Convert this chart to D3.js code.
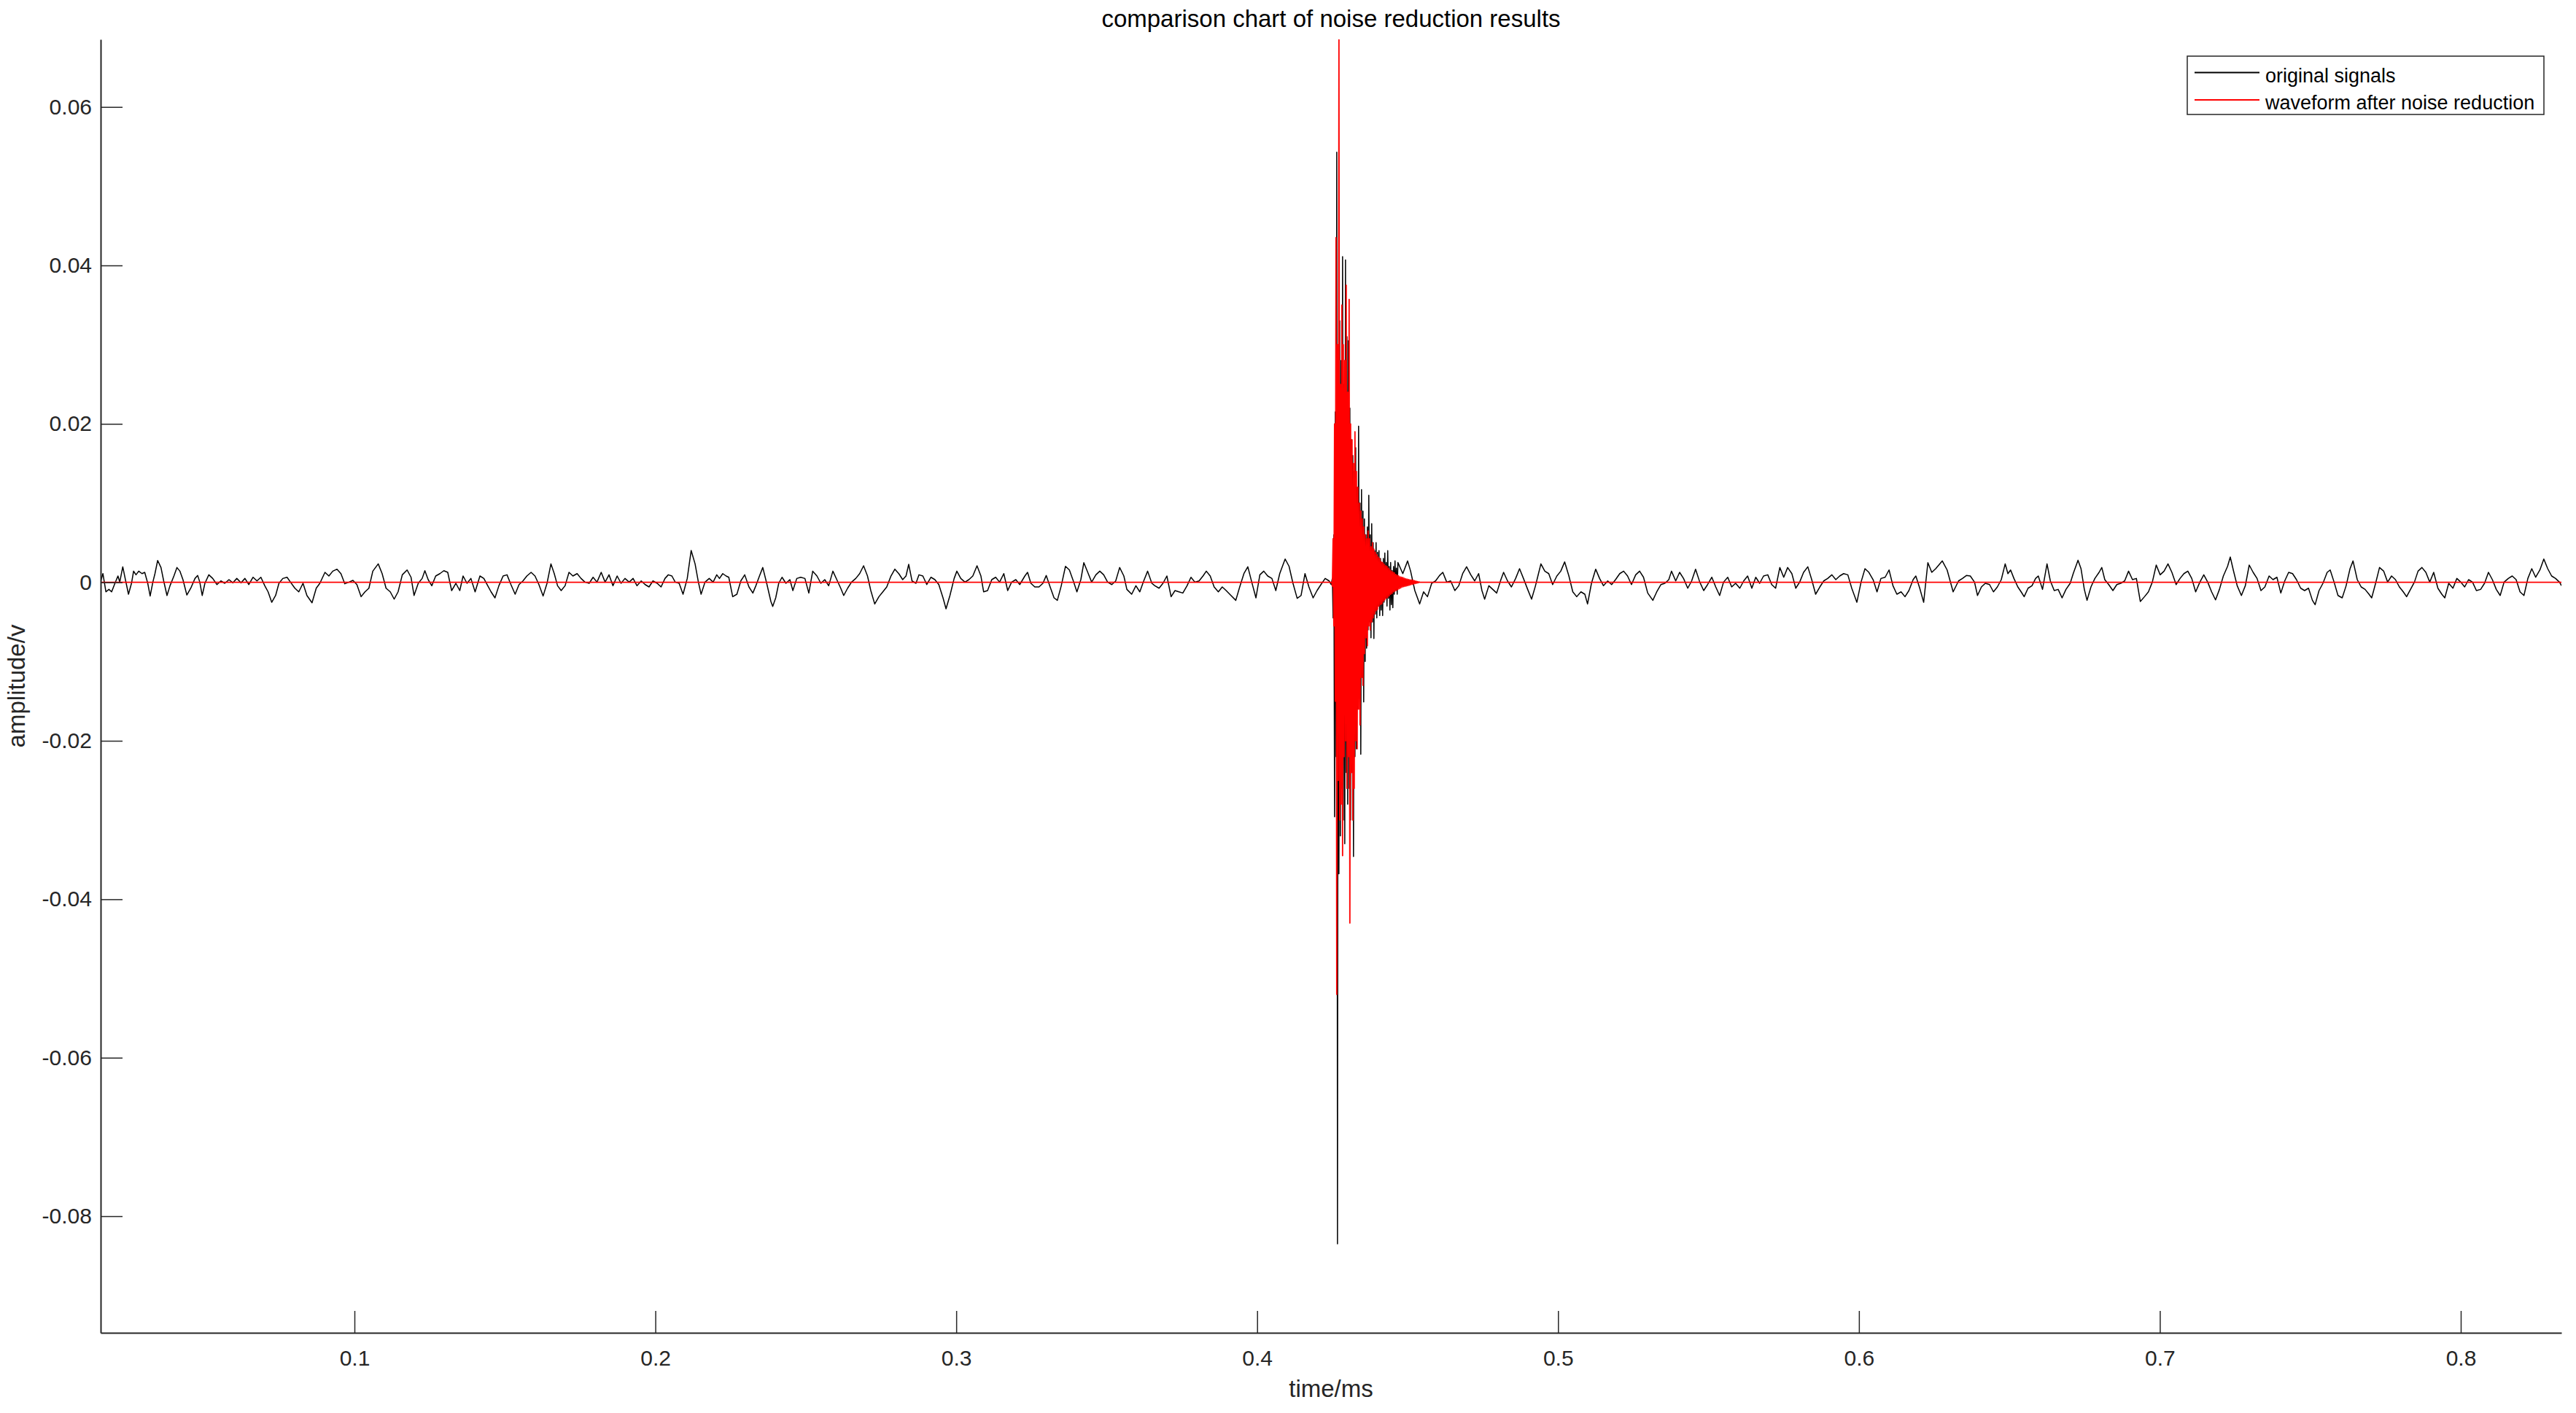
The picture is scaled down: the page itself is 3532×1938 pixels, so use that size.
<!DOCTYPE html>
<html>
<head>
<meta charset="utf-8">
<script src="https://cdn.jsdelivr.net/npm/d3@7"></script>
<style>
  body { margin: 0; background: #fff; }
  svg { display: block; font-family: "Liberation Sans", Arial, Helvetica, sans-serif; }
  .axis path, .axis line { stroke: #262626; }
  .axis path { stroke-width: 2; }
  .axis line { stroke-width: 1.5; }
  .axis text { fill: #262626; font-size: 30px; font-family: "Liberation Sans", Arial, Helvetica, sans-serif; }
  .label { fill: #262626; font-size: 33px; }
  .title { fill: #000; font-size: 33px; }
  .legend text { fill: #000; font-size: 27px; }
  .trace { fill: none; stroke-linejoin: round; }
</style>
</head>
<body>
<div id="chart"></div>
<script>
const xTicks = [0.1, 0.2, 0.3, 0.4, 0.5, 0.6, 0.7, 0.8];
const yTicks = [-0.08, -0.06, -0.04, -0.02, 0, 0.02, 0.04, 0.06];
const timeRange = [0.01565, 0.83345];
const ampRange = [-0.09472, 0.06853];
const seriesNames = [`original signals`, `waveform after noise reduction`];
const seriesColors = [`#000000`, `#ff0000`];

// [time in ms, amplitude in mV]
const originalBefore = [
  [0.0157,0.18],[0.0164,1.10],[0.0174,-1.20],[0.0184,-0.89],[0.0193,-1.20],[0.0204,-0.12],[0.0214,0.80],[0.0220,0.03],
  [0.0230,1.96],[0.0238,0.49],[0.0249,-1.50],[0.0259,-0.12],[0.0266,1.41],[0.0274,0.95],[0.0283,1.41],[0.0294,1.10],
  [0.0303,1.26],[0.0313,-0.12],[0.0321,-1.72],[0.0330,0.03],[0.0337,1.10],[0.0346,2.76],[0.0357,1.87],[0.0366,0.18],
  [0.0377,-1.66],[0.0387,-0.43],[0.0400,0.80],[0.0410,1.87],[0.0420,1.41],[0.0430,0.34],[0.0443,-1.60],[0.0456,-0.74],
  [0.0470,0.49],[0.0479,0.86],[0.0486,0.03],[0.0494,-1.66],[0.0503,-0.12],[0.0516,0.95],[0.0529,0.49],[0.0543,-0.28],
  [0.0556,0.18],[0.0569,-0.12],[0.0583,0.34],[0.0596,-0.06],[0.0609,0.49],[0.0623,-0.06],[0.0636,0.49],[0.0649,-0.28],
  [0.0663,0.64],[0.0676,0.18],[0.0689,0.64],[0.0702,-0.43],[0.0713,-1.20],[0.0725,-2.52],[0.0738,-1.66],[0.0749,-0.12],
  [0.0762,0.49],[0.0776,0.64],[0.0789,-0.06],[0.0802,-0.74],[0.0815,-1.20],[0.0829,-0.12],[0.0842,-1.66],[0.0859,-2.58],
  [0.0873,-0.74],[0.0885,-0.12],[0.0902,1.26],[0.0915,0.80],[0.0928,1.41],[0.0942,1.66],[0.0955,1.10],[0.0968,-0.18],
  [0.0982,0.03],[0.0995,0.25],[0.1008,-0.28],[0.1022,-1.81],[0.1035,-1.20],[0.1048,-0.74],[0.1061,1.41],[0.1079,2.33],
  [0.1092,1.10],[0.1105,-0.74],[0.1119,-1.20],[0.1132,-2.12],[0.1145,-1.20],[0.1159,0.95],[0.1175,1.56],[0.1188,0.64],
  [0.1198,-1.66],[0.1212,-0.12],[0.1225,0.49],[0.1234,1.47],[0.1245,0.34],[0.1257,-0.43],[0.1270,0.80],[0.1284,1.10],
  [0.1297,1.47],[0.1310,1.26],[0.1323,-1.04],[0.1337,-0.12],[0.1350,-1.04],[0.1361,0.80],[0.1374,-0.12],[0.1387,0.49],
  [0.1401,-1.20],[0.1417,0.80],[0.1430,0.49],[0.1443,-0.43],[0.1454,-1.20],[0.1467,-1.96],[0.1480,-0.43],[0.1494,0.80],
  [0.1507,0.95],[0.1520,-0.28],[0.1534,-1.50],[0.1547,-0.28],[0.1560,0.18],[0.1573,0.80],[0.1587,1.26],[0.1600,0.80],
  [0.1613,-0.28],[0.1627,-1.72],[0.1640,-0.12],[0.1653,2.33],[0.1664,1.10],[0.1675,-0.43],[0.1687,-1.04],[0.1700,-0.43],
  [0.1713,1.26],[0.1726,0.80],[0.1740,1.10],[0.1753,0.49],[0.1766,0.03],[0.1780,-0.12],[0.1793,0.64],[0.1806,0.03],
  [0.1820,1.26],[0.1833,0.03],[0.1846,0.95],[0.1859,-0.43],[0.1873,0.80],[0.1886,-0.12],[0.1899,0.49],[0.1913,0.03],
  [0.1926,0.49],[0.1939,-0.43],[0.1953,0.18],[0.1966,-0.28],[0.1979,-0.58],[0.1992,0.18],[0.2006,-0.12],[0.2019,-0.58],
  [0.2032,0.49],[0.2043,0.95],[0.2055,0.80],[0.2066,0.03],[0.2079,-0.12],[0.2092,-1.50],[0.2106,0.49],[0.2119,4.02],
  [0.2132,2.33],[0.2143,0.03],[0.2152,-1.50],[0.2165,0.03],[0.2179,0.49],[0.2192,0.03],
  [0.2204,0.95],[0.2213,0.49],[0.2224,1.10],[0.2235,0.80],[0.2244,0.64],[0.2257,-1.81],[0.2271,-1.50],[0.2284,0.18],
  [0.2297,0.95],[0.2311,-0.58],[0.2324,-1.35],[0.2334,-0.43],[0.2346,0.80],[0.2357,1.87],[0.2370,-0.12],[0.2384,-2.42],
  [0.2390,-3.04],[0.2400,-1.96],[0.2410,-0.12],[0.2421,0.64],[0.2434,-0.12],[0.2447,0.34],[0.2457,-1.04],[0.2470,0.49],
  [0.2483,0.64],[0.2497,0.49],[0.2510,-1.35],[0.2523,1.41],[0.2537,0.80],[0.2550,-0.12],[0.2563,0.34],[0.2576,-0.43],
  [0.2590,1.41],[0.2603,0.34],[0.2616,-0.74],[0.2626,-1.66],[0.2639,-0.74],[0.2652,0.03],[0.2666,0.49],[0.2679,1.10],
  [0.2692,2.09],[0.2705,0.80],[0.2716,-1.04],[0.2729,-2.73],[0.2743,-1.81],[0.2756,-1.20],[0.2769,-0.58],[0.2783,0.80],
  [0.2796,1.66],[0.2809,1.10],[0.2822,0.34],[0.2833,0.80],[0.2842,2.27],[0.2853,0.18],[0.2866,-0.12],[0.2876,0.95],
  [0.2889,0.80],[0.2902,-0.28],[0.2916,0.64],[0.2929,0.34],[0.2942,-0.28],[0.2956,-1.96],[0.2966,-3.34],[0.2979,-1.66],
  [0.2993,0.49],[0.3002,1.41],[0.3015,0.49],[0.3029,0.03],[0.3042,0.34],[0.3055,0.80],[0.3069,2.09],[0.3082,0.80],
  [0.3091,-1.20],[0.3104,-1.04],[0.3118,0.34],[0.3131,0.64],[0.3144,0.03],[0.3158,1.10],[0.3171,-1.04],[0.3184,0.03],
  [0.3198,0.34],[0.3211,-0.28],[0.3228,0.80],[0.3237,1.26],[0.3248,-0.12],[0.3261,-0.58],[0.3275,-0.58],[0.3288,-0.12],
  [0.3299,0.86],[0.3312,-0.58],[0.3325,-1.96],[0.3336,-2.27],[0.3349,-0.43],[0.3363,2.02],[0.3376,1.56],[0.3389,0.18],
  [0.3401,-1.20],[0.3414,0.34],[0.3424,2.48],[0.3437,1.26],[0.3450,0.03],[0.3464,0.95],[0.3477,1.41],[0.3490,0.95],
  [0.3503,0.03],[0.3517,-0.28],[0.3530,0.18],[0.3543,1.87],[0.3557,0.80],[0.3567,-0.89],[0.3583,-1.50],[0.3597,-0.43],
  [0.3610,-1.20],[0.3623,0.18],[0.3636,1.41],[0.3650,-0.12],[0.3660,-0.43],[0.3674,-0.74],[0.3687,-0.12],[0.3700,0.80],
  [0.3714,-1.81],[0.3727,-1.04],[0.3740,-1.20],[0.3753,-1.35],[0.3767,-0.43],[0.3780,0.64],[0.3793,0.03],[0.3807,0.18],
  [0.3820,0.80],[0.3831,1.41],[0.3844,0.80],[0.3857,-0.58],[0.3871,-1.20],[0.3884,-0.58],[0.3897,-1.04],[0.3913,-1.66],
  [0.3929,-2.27],[0.3942,-0.58],[0.3956,1.10],[0.3969,1.96],[0.3982,0.03],[0.3996,-1.96],[0.4009,0.95],[0.4022,1.41],
  [0.4035,0.80],[0.4049,0.49],[0.4062,-1.04],[0.4075,1.10],[0.4093,2.94],[0.4106,2.02],[0.4119,-0.12],[0.4133,-2.02],
  [0.4146,-1.66],[0.4159,1.10],[0.4172,-0.58],[0.4186,-1.96],[0.4199,-1.04],[0.4212,-0.28],[0.4226,0.49],[0.4239,0.18],
  [0.4246,-0.28]
];

// burst samples (mV), evenly spaced from burstStart
const burstStart = 0.4250;
const burstStep = 0.000242;
const originalBurst = [
  0.5, -4.5, 6.0, -29.6, 21.5, -22.0, 54.3, -83.5, 30.0, -36.8, 33.0, -32.0, 28.0, -26.0, 41.1, -30.0,
  25.0, -33.0, 40.7, -24.0, 31.0, -28.0, 30.5, -26.0, 22.0, -30.0, 18.0, -24.0, 16.0, -34.6, 14.0, -22.0,
  17.0, -21.0, 12.0, -16.0, 19.7, -14.0, 10.0, -21.7, 11.7, -12.0, 9.0, -15.1, 8.0, -10.0, 6.0, -8.3,
  7.0, -6.0, 11.0, -5.0, 6.0, -7.0, 7.4, -5.0, 5.0, -7.1, 4.0, -4.0, 5.0, -4.5, 3.8, -3.0,
  4.0, -4.2, 3.0, -3.5, 2.5, -4.2, 3.0, -2.5, 3.7, -2.0, 2.5, -3.0, 4.0, -2.0, 2.0, -3.5,
  2.5, -2.8, 1.5, -3.2, 2.0, -1.5, 2.7, -1.0, 1.8, -1.5, 2.5
];
const denoisedBurst = [
  -0.5, 5.5, -5.5, 20.0, -15.0, 43.5, -52.0, 30.0, -25.0, 68.6, -30.0, 25.0, -28.0, 35.0, -34.5, 30.0,
  -22.0, 28.0, -20.0, 37.5, -26.0, 24.0, -22.0, 35.7, -43.0, 20.0, -24.0, 18.0, -30.0, 15.0, -26.0, 19.0,
  -20.0, 14.0, -21.0, 12.0, -16.0, 10.0, -18.0, 9.0, -12.0, 8.0, -13.0, 7.0, -9.0, 6.0, -7.0, 5.5,
  -8.0, 6.5, -5.5, 5.5, -6.0, 4.5, -5.0, 5.0, -4.5, 4.2, -4.0, 3.8, -3.6, 3.5, -3.4, 3.2,
  -3.0, 3.0, -2.8, 2.6, -2.7, 2.5, -2.4, 2.3, -2.2, 2.1, -2.0, 2.0, -1.9, 1.8, -1.7, 1.6,
  -1.5, 1.4, -1.4, 1.3, -1.2, 1.2, -1.1, 1.0, -1.0, 0.9, -0.9, 0.8, -0.8, 0.7, -0.7, 0.65,
  -0.6, 0.6, -0.55, 0.5, -0.5, 0.45, -0.45, 0.4, -0.4, 0.35, -0.35, 0.3, -0.3, 0.3, -0.25, 0.25,
  -0.2, 0.2, -0.15, 0.15, -0.1, 0.1, -0.05, 0.05, 0
];
const denoisedQuiet = [[0.0157, 0], [0.4248, 0], [0.4545, 0], [0.8335, 0]];

const originalAfter = [
  [0.4484,1.10],[0.4500,2.70],[0.4510,1.41],[0.4524,-1.04],[0.4540,-2.73],[0.4553,-1.20],[0.4566,-1.81],[0.4580,-0.12],
  [0.4593,0.18],[0.4606,0.86],[0.4617,1.26],[0.4630,0.03],[0.4643,0.18],[0.4657,-1.04],[0.4670,-0.43],[0.4683,1.10],
  [0.4696,1.96],[0.4710,0.95],[0.4723,0.18],[0.4736,1.10],[0.4747,-1.04],[0.4756,-2.12],[0.4770,-0.43],[0.4783,-0.89],
  [0.4796,-1.35],[0.4810,0.34],[0.4819,1.26],[0.4832,0.18],[0.4845,-0.58],[0.4859,0.49],[0.4872,1.72],[0.4885,0.49],
  [0.4899,-0.89],[0.4912,-2.12],[0.4925,-0.43],[0.4933,0.80],[0.4943,2.33],[0.4956,1.41],[0.4969,1.10],[0.4982,-0.28],
  [0.4996,0.80],[0.5009,1.41],[0.5022,2.58],[0.5036,0.80],[0.5049,-1.20],[0.5062,-1.81],[0.5076,-1.20],[0.5089,-1.50],
  [0.5098,-2.73],[0.5111,-0.12],[0.5125,1.66],[0.5138,0.49],[0.5151,-0.43],[0.5165,0.18],[0.5178,-0.28],[0.5191,0.34],
  [0.5205,1.10],[0.5218,1.41],[0.5231,0.80],[0.5244,-0.28],[0.5258,0.95],[0.5271,1.41],[0.5284,0.64],[0.5298,-1.35],
  [0.5315,-2.27],[0.5328,-1.20],[0.5342,-0.28],[0.5355,-0.12],[0.5368,0.34],[0.5377,1.41],[0.5391,0.18],[0.5404,1.26],
  [0.5417,0.49],[0.5431,-0.74],[0.5444,0.18],[0.5457,1.66],[0.5471,0.03],[0.5484,-1.04],[0.5497,-0.28],[0.5511,0.64],
  [0.5524,-0.58],[0.5537,-1.66],[0.5550,0.03],[0.5564,0.64],[0.5577,-0.58],[0.5590,-0.12],[0.5604,-0.74],[0.5617,0.18],
  [0.5630,0.80],[0.5644,-0.74],[0.5657,0.64],[0.5670,-0.12],[0.5683,0.80],[0.5697,0.95],[0.5710,-0.28],[0.5723,-0.74],
  [0.5737,1.87],[0.5750,0.64],[0.5763,1.87],[0.5777,1.10],[0.5790,-0.74],[0.5803,0.03],[0.5816,1.26],[0.5830,1.96],
  [0.5843,0.34],[0.5856,-1.50],[0.5870,-0.58],[0.5883,0.18],[0.5896,0.49],[0.5910,0.95],[0.5923,0.34],[0.5936,0.80],
  [0.5949,1.10],[0.5963,0.95],[0.5976,-0.74],[0.5993,-2.52],[0.6007,0.03],[0.6020,1.72],[0.6033,1.26],[0.6047,0.34],
  [0.6060,-1.20],[0.6073,0.49],[0.6087,0.64],[0.6100,1.56],[0.6113,-0.43],[0.6126,-1.50],[0.6140,-1.20],[0.6153,-1.81],
  [0.6166,-1.04],[0.6180,0.34],[0.6189,0.80],[0.6202,-0.74],[0.6215,-2.52],[0.6229,2.48],[0.6242,1.26],[0.6255,1.72],
  [0.6277,2.70],[0.6293,1.56],[0.6313,-1.20],
  [0.6331,0.18],[0.6344,0.49],[0.6357,0.86],[0.6370,0.80],[0.6384,0.03],[0.6394,-1.66],[0.6407,-0.58],[0.6420,-0.12],
  [0.6434,-0.28],[0.6447,-1.20],[0.6460,-0.58],[0.6473,0.34],[0.6486,2.33],[0.6495,1.10],[0.6504,1.56],[0.6515,0.49],
  [0.6528,-0.58],[0.6539,-1.20],[0.6549,-1.81],[0.6562,-0.74],[0.6575,-0.43],[0.6587,0.49],[0.6596,0.80],[0.6610,-0.89],
  [0.6625,2.33],[0.6636,0.18],[0.6649,-1.04],[0.6662,-0.89],[0.6675,-1.96],[0.6688,-0.89],[0.6702,-0.12],[0.6712,1.10],
  [0.6728,2.79],[0.6738,1.72],[0.6749,-0.89],[0.6758,-2.27],[0.6771,-0.58],[0.6784,0.49],[0.6798,1.26],[0.6807,1.87],
  [0.6817,0.34],[0.6830,-0.28],[0.6844,-1.04],[0.6857,-0.28],[0.6870,-0.12],[0.6883,0.18],[0.6896,1.41],[0.6909,0.34],
  [0.6922,0.49],[0.6935,-2.42],[0.6949,-1.81],[0.6962,-1.20],[0.6975,0.03],[0.6988,2.18],[0.7001,0.95],[0.7014,1.41],
  [0.7027,2.33],[0.7040,1.26],[0.7054,-0.28],[0.7067,0.49],[0.7080,1.10],[0.7093,1.41],[0.7106,0.49],[0.7119,-1.20],
  [0.7133,0.03],[0.7146,0.95],[0.7159,0.03],[0.7172,-1.20],[0.7185,-2.21],[0.7198,-0.89],[0.7211,0.80],[0.7225,2.02],
  [0.7234,3.19],[0.7244,1.56],[0.7257,-0.43],[0.7271,-1.66],[0.7284,-0.43],[0.7297,2.18],[0.7310,1.26],[0.7323,0.49],
  [0.7336,-1.04],[0.7349,-0.58],[0.7363,0.80],[0.7376,0.34],[0.7389,0.64],[0.7402,-1.35],[0.7415,0.18],[0.7428,1.26],
  [0.7441,1.10],[0.7454,0.34],[0.7468,-0.74],[0.7481,-1.04],[0.7494,-0.74],[0.7507,-2.27],[0.7516,-2.82],[0.7529,-1.04],
  [0.7542,-0.12],[0.7556,1.26],[0.7566,1.56],[0.7579,0.03],[0.7592,-1.66],[0.7606,-1.96],[0.7619,-0.43],[0.7632,1.72],
  [0.7642,2.70],[0.7656,0.34],[0.7669,-0.58],[0.7682,-0.89],[0.7695,-1.50],[0.7704,-1.96],[0.7717,-0.12],[0.7730,1.87],
  [0.7744,1.41],[0.7757,0.03],[0.7770,0.80],[0.7783,0.34],[0.7796,-0.58],[0.7809,-1.20],[0.7820,-1.81],[0.7833,-0.89],
  [0.7846,0.03],[0.7858,1.41],[0.7871,1.87],[0.7884,1.26],[0.7897,0.03],[0.7910,1.26],[0.7924,-0.74],[0.7937,-1.50],
  [0.7947,-1.96],[0.7960,-0.12],[0.7974,-0.74],[0.7987,0.49],[0.8000,0.03],[0.8013,-0.58],[0.8026,0.34],[0.8039,0.03],
  [0.8052,-1.04],[0.8066,-0.89],[0.8079,-0.12],[0.8092,1.26],[0.8105,0.34],[0.8118,-0.89],[0.8131,-1.66],[0.8144,0.03],
  [0.8158,0.49],[0.8171,0.80],[0.8184,0.34],[0.8197,-1.20],[0.8210,-1.66],[0.8223,0.49],[0.8236,1.72],[0.8249,0.64],
  [0.8263,1.56],[0.8276,2.94],[0.8289,1.72],[0.8302,0.80],[0.8315,0.49],[0.8328,0.03],[0.8335,-0.43]
];

class WaveformChart {
  constructor(el) {
    this.el = el;
    this.width = 3532;
    this.height = 1938;
    this.margin = { top: 54, right: 20, bottom: 110, left: 138 };
    this.innerWidth = this.width - this.margin.left - this.margin.right;
    this.innerHeight = this.height - this.margin.top - this.margin.bottom;
    this.x = d3.scaleLinear().domain(timeRange).range([0, this.innerWidth]);
    this.y = d3.scaleLinear().domain(ampRange).range([this.innerHeight, 0]);
  }

  render() {
    this.svg = d3.select(this.el).append(`svg`)
        .attr(`width`, this.width)
        .attr(`height`, this.height);

    this.svg.append(`rect`)
        .attr(`width`, this.width)
        .attr(`height`, this.height)
        .attr(`fill`, `#fff`);

    this.g = this.svg.append(`g`)
        .attr(`transform`, `translate(${this.margin.left},${this.margin.top})`);

    this.drawLines();
    this.drawAxes();
    this.drawText();
    this.drawLegend();
  }

  series() {
    const toVolts = ([t, mv]) => ({ t, v: mv / 1000 });
    const fromBurst = (values) => values.map((mv, i) => ({ t: burstStart + i * burstStep, v: mv / 1000 }));

    const original = [...originalBefore.map(toVolts), ...fromBurst(originalBurst), ...originalAfter.map(toVolts)];
    const denoised = [...denoisedQuiet.map(toVolts), ...fromBurst(denoisedBurst)]
      .sort((a, b) => a.t - b.t);

    return [original, denoised];
  }

  drawLines() {
    this.g.append(`clipPath`)
        .attr(`id`, `plot-clip`)
      .append(`rect`)
        .attr(`width`, this.innerWidth)
        .attr(`height`, this.innerHeight);

    const line = d3.line()
      .x((d) => this.x(d.t))
      .y((d) => this.y(d.v));

    const widths = [1.5, 1.8];

    this.g.append(`g`)
        .attr(`clip-path`, `url(#plot-clip)`)
      .selectAll(`path`)
        .data(this.series())
      .enter().append(`path`)
        .attr(`class`, `trace`)
        .attr(`stroke`, (d, i) => seriesColors[i])
        .attr(`stroke-width`, (d, i) => widths[i])
        .attr(`d`, line);
  }

  drawAxes() {
    this.g.append(`g`)
        .attr(`class`, `axis`)
        .attr(`transform`, `translate(0,${this.innerHeight})`)
        .call(d3.axisBottom(this.x)
          .tickValues(xTicks)
          .tickFormat((d) => d.toFixed(1))
          .tickSizeInner(-30)
          .tickSizeOuter(0)
          .tickPadding(24));

    this.g.append(`g`)
        .attr(`class`, `axis`)
        .call(d3.axisLeft(this.y)
          .tickValues(yTicks)
          .tickFormat((d) => d === 0 ? `0` : d.toFixed(2))
          .tickSizeInner(-30)
          .tickSizeOuter(0)
          .tickPadding(12));

    this.g.selectAll(`.axis`).attr(`font-size`, null).attr(`font-family`, null);
  }

  drawText() {
    this.svg.append(`text`)
        .attr(`class`, `title`)
        .attr(`x`, this.margin.left + this.innerWidth / 2)
        .attr(`y`, 37)
        .attr(`text-anchor`, `middle`)
        .text(`comparison chart of noise reduction results`);

    this.svg.append(`text`)
        .attr(`class`, `label`)
        .attr(`x`, this.margin.left + this.innerWidth / 2)
        .attr(`y`, 1916)
        .attr(`text-anchor`, `middle`)
        .text(`time/ms`);

    this.svg.append(`text`)
        .attr(`class`, `label`)
        .attr(`transform`, `translate(34,${this.margin.top + this.innerHeight / 2}) rotate(-90)`)
        .attr(`text-anchor`, `middle`)
        .text(`amplitude/v`);
  }

  drawLegend() {
    const legend = this.svg.append(`g`)
        .attr(`class`, `legend`)
        .attr(`transform`, `translate(2999,77)`);

    legend.append(`rect`)
        .attr(`width`, 489)
        .attr(`height`, 80)
        .attr(`fill`, `#fff`)
        .attr(`stroke`, `#262626`)
        .attr(`stroke-width`, 1.5);

    const rows = legend.selectAll(`.legend-row`)
        .data(seriesNames)
      .enter().append(`g`)
        .attr(`class`, `legend-row`)
        .attr(`transform`, (d, i) => `translate(0,${22.5 + i * 37.5})`);

    rows.append(`line`)
        .attr(`x1`, 10)
        .attr(`x2`, 99)
        .attr(`stroke`, (d, i) => seriesColors[i])
        .attr(`stroke-width`, 1.8);

    rows.append(`text`)
        .attr(`x`, 107)
        .attr(`y`, 13)
        .text((d) => d);
  }
}

new WaveformChart(`#chart`).render();
</script>
</body>
</html>
